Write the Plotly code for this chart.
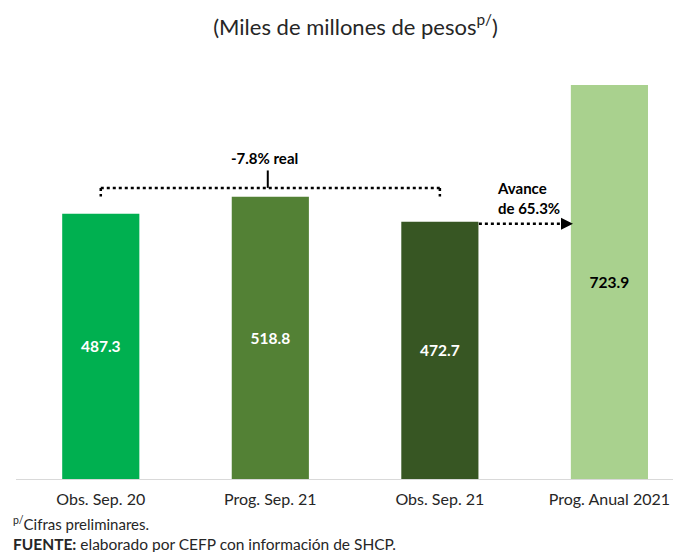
import plotly.graph_objects as go

categories = ["Obs. Sep. 20", "Prog. Sep. 21", "Obs. Sep. 21", "Prog. Anual 2021"]
values = [487.3, 518.8, 472.7, 723.9]
bar_colors = ["#00B050", "#538135", "#375623", "#A9D18E"]
text_colors = ["white", "white", "white", "black"]
bar_labels = ["487.3", "518.8", "472.7", "723.9"]

FONT = "Lato, 'Noto Sans', sans-serif"

W, H = 673, 552
ml, mr, mt, mb = 16, 0, 60, 73
pw, ph = W - ml - mr, H - mt - mb

def px(xp):
    return (xp - ml) / pw

def py(yp):
    return (H - mb - yp) / ph

fig = go.Figure()
fig.add_trace(go.Bar(
    x=list(range(len(categories))), y=values,
    marker=dict(color=bar_colors, line=dict(width=0)),
    width=0.455,
    text=bar_labels, textposition="inside", insidetextanchor="middle",
    textfont=dict(family=FONT, size=15.5, color=text_colors, weight="bold"),
    textangle=0, hoverinfo="skip",
))

# bracket for -7.8% real
yb = 535
dot = dict(color="black", width=2.5, dash="dot")
fig.add_shape(type="line", x0=0, x1=2, y0=yb, y1=yb, xref="x", yref="y", line=dot)
fig.add_shape(type="line", x0=0, x1=0, y0=yb, y1=yb - 16, xref="x", yref="y", line=dot)
fig.add_shape(type="line", x0=2, x1=2, y0=yb, y1=yb - 16, xref="x", yref="y", line=dot)
fig.add_shape(type="line", x0=0.985, x1=0.985, y0=yb, y1=yb + 32, xref="x", yref="y",
              line=dict(color="black", width=2))
fig.add_annotation(x=0.965, y=590, xref="x", yref="y", text="<b>-7.8% real</b>",
                   showarrow=False, font=dict(family=FONT, size=15, color="black"))

# arrow for Avance
ya = 469
fig.add_shape(type="line", x0=2.23, x1=2.76, y0=ya, y1=ya, xref="x", yref="y", line=dot)
fig.add_annotation(x=2.785, y=ya, ax=-8, ay=0, xref="x", yref="y", text="",
                   showarrow=True, arrowhead=2, arrowsize=1.2, arrowwidth=2, arrowcolor="black")
fig.add_annotation(x=2.52, y=516, xref="x", yref="y", text="<b>Avance<br>de 65.3%</b>",
                   showarrow=False, font=dict(family=FONT, size=15, color="black"), align="left")

# footnotes
fig.add_annotation(x=px(11), y=py(523), xref="paper", yref="paper", xanchor="left", yanchor="middle",
                   text="<sup>p/</sup>Cifras preliminares.", showarrow=False,
                   font=dict(family=FONT, size=15, color="#262626"))
fig.add_annotation(x=px(11), y=py(544), xref="paper", yref="paper", xanchor="left", yanchor="middle",
                   text="<b>FUENTE:</b> elaborado por CEFP con información de SHCP.", showarrow=False,
                   font=dict(family=FONT, size=15.5, color="#262626"))

fig.update_layout(
    title=dict(text="(Miles de millones de pesos<sup>p/</sup>)", x=355.5 / W, xanchor="center",
               y=1 - 27 / H, yanchor="middle", font=dict(family=FONT, size=22, color="#262626")),
    width=W, height=H,
    margin=dict(l=ml, r=mr, t=mt, b=mb, pad=0),
    paper_bgcolor="white", plot_bgcolor="white",
    showlegend=False,
    xaxis=dict(range=[-0.5, 3.375], tickmode="array", tickvals=list(range(len(categories))),
               ticktext=categories, showgrid=False, zeroline=False,
               showline=True, linecolor="#D9D9D9", linewidth=1, ticks="",
               ticklabelstandoff=6,
               tickfont=dict(family=FONT, size=16, color="#262626"), fixedrange=True),
    yaxis=dict(range=[0, 770], visible=False, showgrid=False, zeroline=False, fixedrange=True),
)

fig.write_html("out.html", config={"displayModeBar": False},
               post_script="document.body.style.margin='0';")
